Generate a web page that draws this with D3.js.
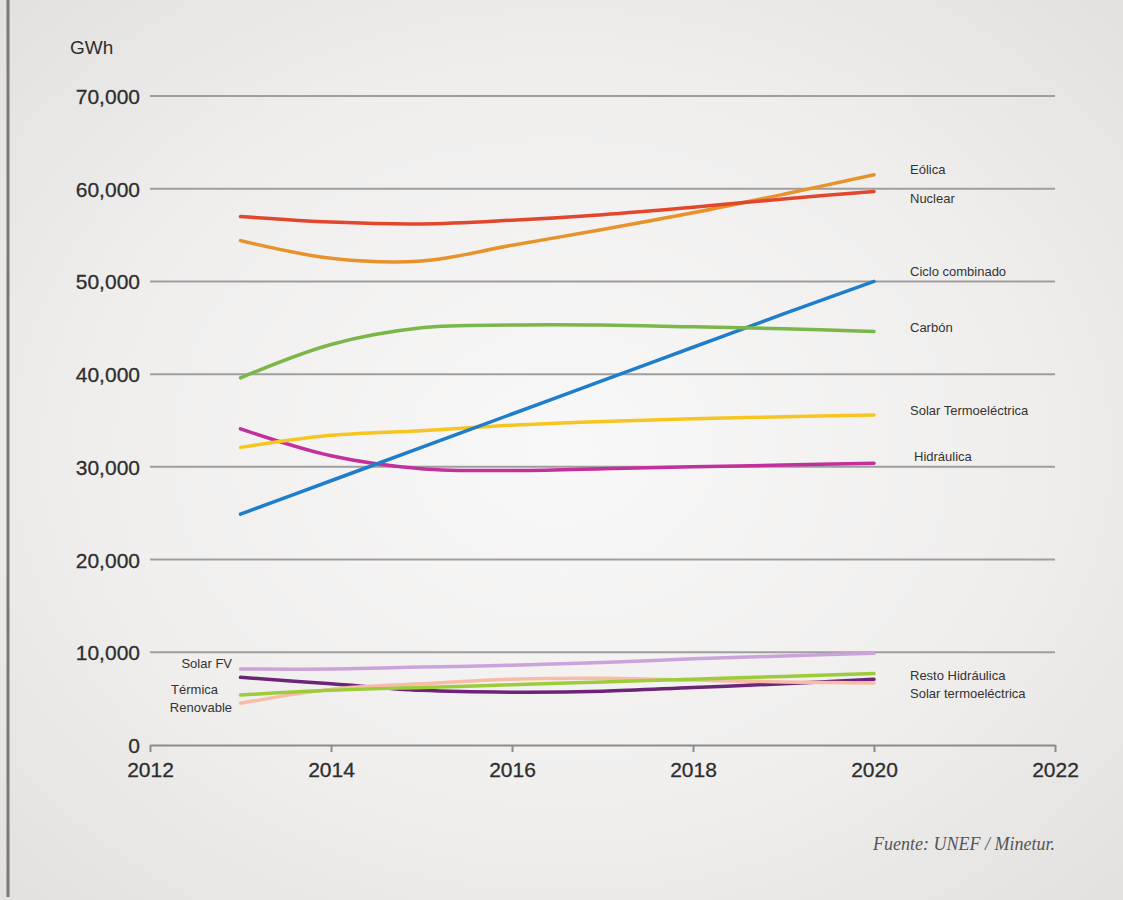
<!DOCTYPE html>
<html>
<head>
<meta charset="utf-8">
<script src="https://cdn.jsdelivr.net/npm/d3@7"></script>
<style>
  html, body { margin: 0; padding: 0; background: #ececeb; }
  svg { display: block; }
</style>
</head>
<body>
<svg id="chart" width="1123" height="900"></svg>
<script>
// ---- Data ----
const years = [2013, 2014, 2015, 2016, 2017, 2018, 2019, 2020];
const xTicks = [2012, 2014, 2016, 2018, 2020, 2022];
const yTicks = [0, 10000, 20000, 30000, 40000, 50000, 60000, 70000];

const nuclear          = [57000, 56400, 56200, 56600, 57200, 58000, 58900, 59700];
const eolica           = [54400, 52500, 52200, 53900, 55600, 57400, 59400, 61500];
const cicloCombinado   = [24900, 28500, 32100, 35700, 39300, 42900, 46500, 50000];
const carbon           = [39600, 43200, 45000, 45300, 45300, 45100, 44900, 44600];
const solarTermo       = [32100, 33400, 33900, 34500, 34900, 35200, 35400, 35600];
const hidraulica       = [34100, 31200, 29800, 29600, 29800, 30000, 30200, 30400];
const solarFV          = [8200, 8200, 8400, 8600, 8900, 9300, 9600, 9900];
const restoHidraulica  = [7300, 6600, 5900, 5700, 5800, 6200, 6600, 7100];
const termicaRenovable = [4500, 6000, 6600, 7100, 7200, 7000, 6800, 6700];
const solarTermoB      = [5400, 5900, 6200, 6500, 6800, 7100, 7400, 7700];

const seriesNames  = ["Solar FV", "Resto Hidráulica", "Térmica Renovable", "Solar termoeléctrica",
                      "Hidráulica", "Solar Termoeléctrica", "Ciclo combinado", "Carbón", "Eólica", "Nuclear"];
const seriesValues = [solarFV, restoHidraulica, termicaRenovable, solarTermoB,
                      hidraulica, solarTermo, cicloCombinado, carbon, eolica, nuclear];
const seriesColors = ["#c9a3d9", "#6c2476", "#f6bca6", "#9dcc3a",
                      "#c2309b", "#f7c520", "#1f7dca", "#7bb649", "#e8922b", "#e2462c"];

// right/left text labels
const rightLabels = ["Eólica", "Nuclear", "Ciclo combinado", "Carbón", "Solar Termoeléctrica", "Hidráulica",
                     "Resto Hidráulica", "Solar termoeléctrica"];
const leftLabels = ["Solar FV", "Térmica", "Renovable"];
const sourceText = "Fuente: UNEF / Minetur.";
const unitText = "GWh";

// ---- Layout ----
const svg = d3.select("#chart");
const W = 1123, H = 900;

const defs = svg.append("defs");
const grad = defs.append("radialGradient").attr("id", "bg")
  .attr("cx", "50%").attr("cy", "50%").attr("r", "70%");
grad.append("stop").attr("offset", "0%").attr("stop-color", "#f9f8f8");
grad.append("stop").attr("offset", "60%").attr("stop-color", "#efeeed");
grad.append("stop").attr("offset", "100%").attr("stop-color", "#e3e1e0");
svg.append("rect").attr("width", W).attr("height", H).attr("fill", "url(#bg)");

// left border line
svg.append("line").attr("x1", 8).attr("x2", 8).attr("y1", 0).attr("y2", 897)
  .attr("stroke", "#7d7775").attr("stroke-width", 3);

const x = d3.scaleLinear().domain([2012, 2022]).range([150, 1055]);
const y = d3.scaleLinear().domain([0, 70000]).range([745, 96]);

// gridlines
svg.append("g").selectAll("line").data(yTicks.filter(d => d > 0)).join("line")
  .attr("x1", x(2012)).attr("x2", x(2022))
  .attr("y1", d => y(d)).attr("y2", d => y(d))
  .attr("stroke", "#a09e9d").attr("stroke-width", 2);

// y axis labels
const fmt = d => d === 0 ? "0" : d3.format(",")(d);
svg.append("g").selectAll("text").data(yTicks).join("text")
  .attr("x", 140).attr("y", d => y(d) + 8)
  .attr("text-anchor", "end")
  .attr("font-family", "Liberation Sans, Arial, sans-serif")
  .attr("font-size", 21).attr("fill", "#2e2e2e")
  .attr("stroke", "#2e2e2e").attr("stroke-width", 0.3)
  .text(fmt);

svg.append("text").attr("x", 70).attr("y", 54)
  .attr("font-family", "Liberation Sans, Arial, sans-serif")
  .attr("font-size", 19).attr("fill", "#2e2e2e").text(unitText);

// x axis
const xAxis = d3.axisBottom(x).tickValues(xTicks).tickSize(7).tickSizeOuter(0).tickFormat(d3.format("d"));
const gx = svg.append("g").attr("transform", `translate(0,${y(0)})`).call(xAxis);
gx.select(".domain").attr("stroke", "#8d8b8a").attr("stroke-width", 2);
gx.selectAll(".tick line").attr("stroke", "#8d8b8a").attr("stroke-width", 2);
gx.selectAll(".tick text")
  .attr("font-family", "Liberation Sans, Arial, sans-serif")
  .attr("font-size", 21).attr("fill", "#2e2e2e")
  .attr("stroke", "#2e2e2e").attr("stroke-width", 0.3)
  .attr("dy", "1.05em");

// lines
const line = d3.line().x((d, i) => x(years[i])).y(d => y(d)).curve(d3.curveCatmullRom.alpha(0.5));
svg.append("g").selectAll("path").data(seriesValues).join("path")
  .attr("d", d => line(d))
  .attr("fill", "none")
  .attr("stroke", (d, i) => seriesColors[i])
  .attr("stroke-width", 3.5)
  .attr("stroke-linecap", "round");

// labels
const lblFont = "Liberation Sans Narrow, Liberation Sans, Arial, sans-serif";
const rightPos = [[910, 174], [910, 203], [910, 276], [910, 332], [910, 415], [914, 461], [910, 680], [910, 698]];
svg.append("g").selectAll("text").data(rightLabels).join("text")
  .attr("x", (d, i) => rightPos[i][0]).attr("y", (d, i) => rightPos[i][1])
  .attr("font-family", lblFont).attr("font-size", 13).attr("fill", "#333")
  .text(d => d);

const leftPos = [[232, 668], [218, 694], [232, 712]];
svg.append("g").selectAll("text").data(leftLabels).join("text")
  .attr("x", (d, i) => leftPos[i][0]).attr("y", (d, i) => leftPos[i][1])
  .attr("text-anchor", "end")
  .attr("font-family", lblFont).attr("font-size", 13).attr("fill", "#333")
  .text(d => d);

svg.append("text").attr("x", 1055).attr("y", 850).attr("text-anchor", "end")
  .attr("font-family", "Liberation Serif, Times New Roman, serif")
  .attr("font-style", "italic").attr("font-size", 18).attr("fill", "#555")
  .text(sourceText);
</script>
</body>
</html>
